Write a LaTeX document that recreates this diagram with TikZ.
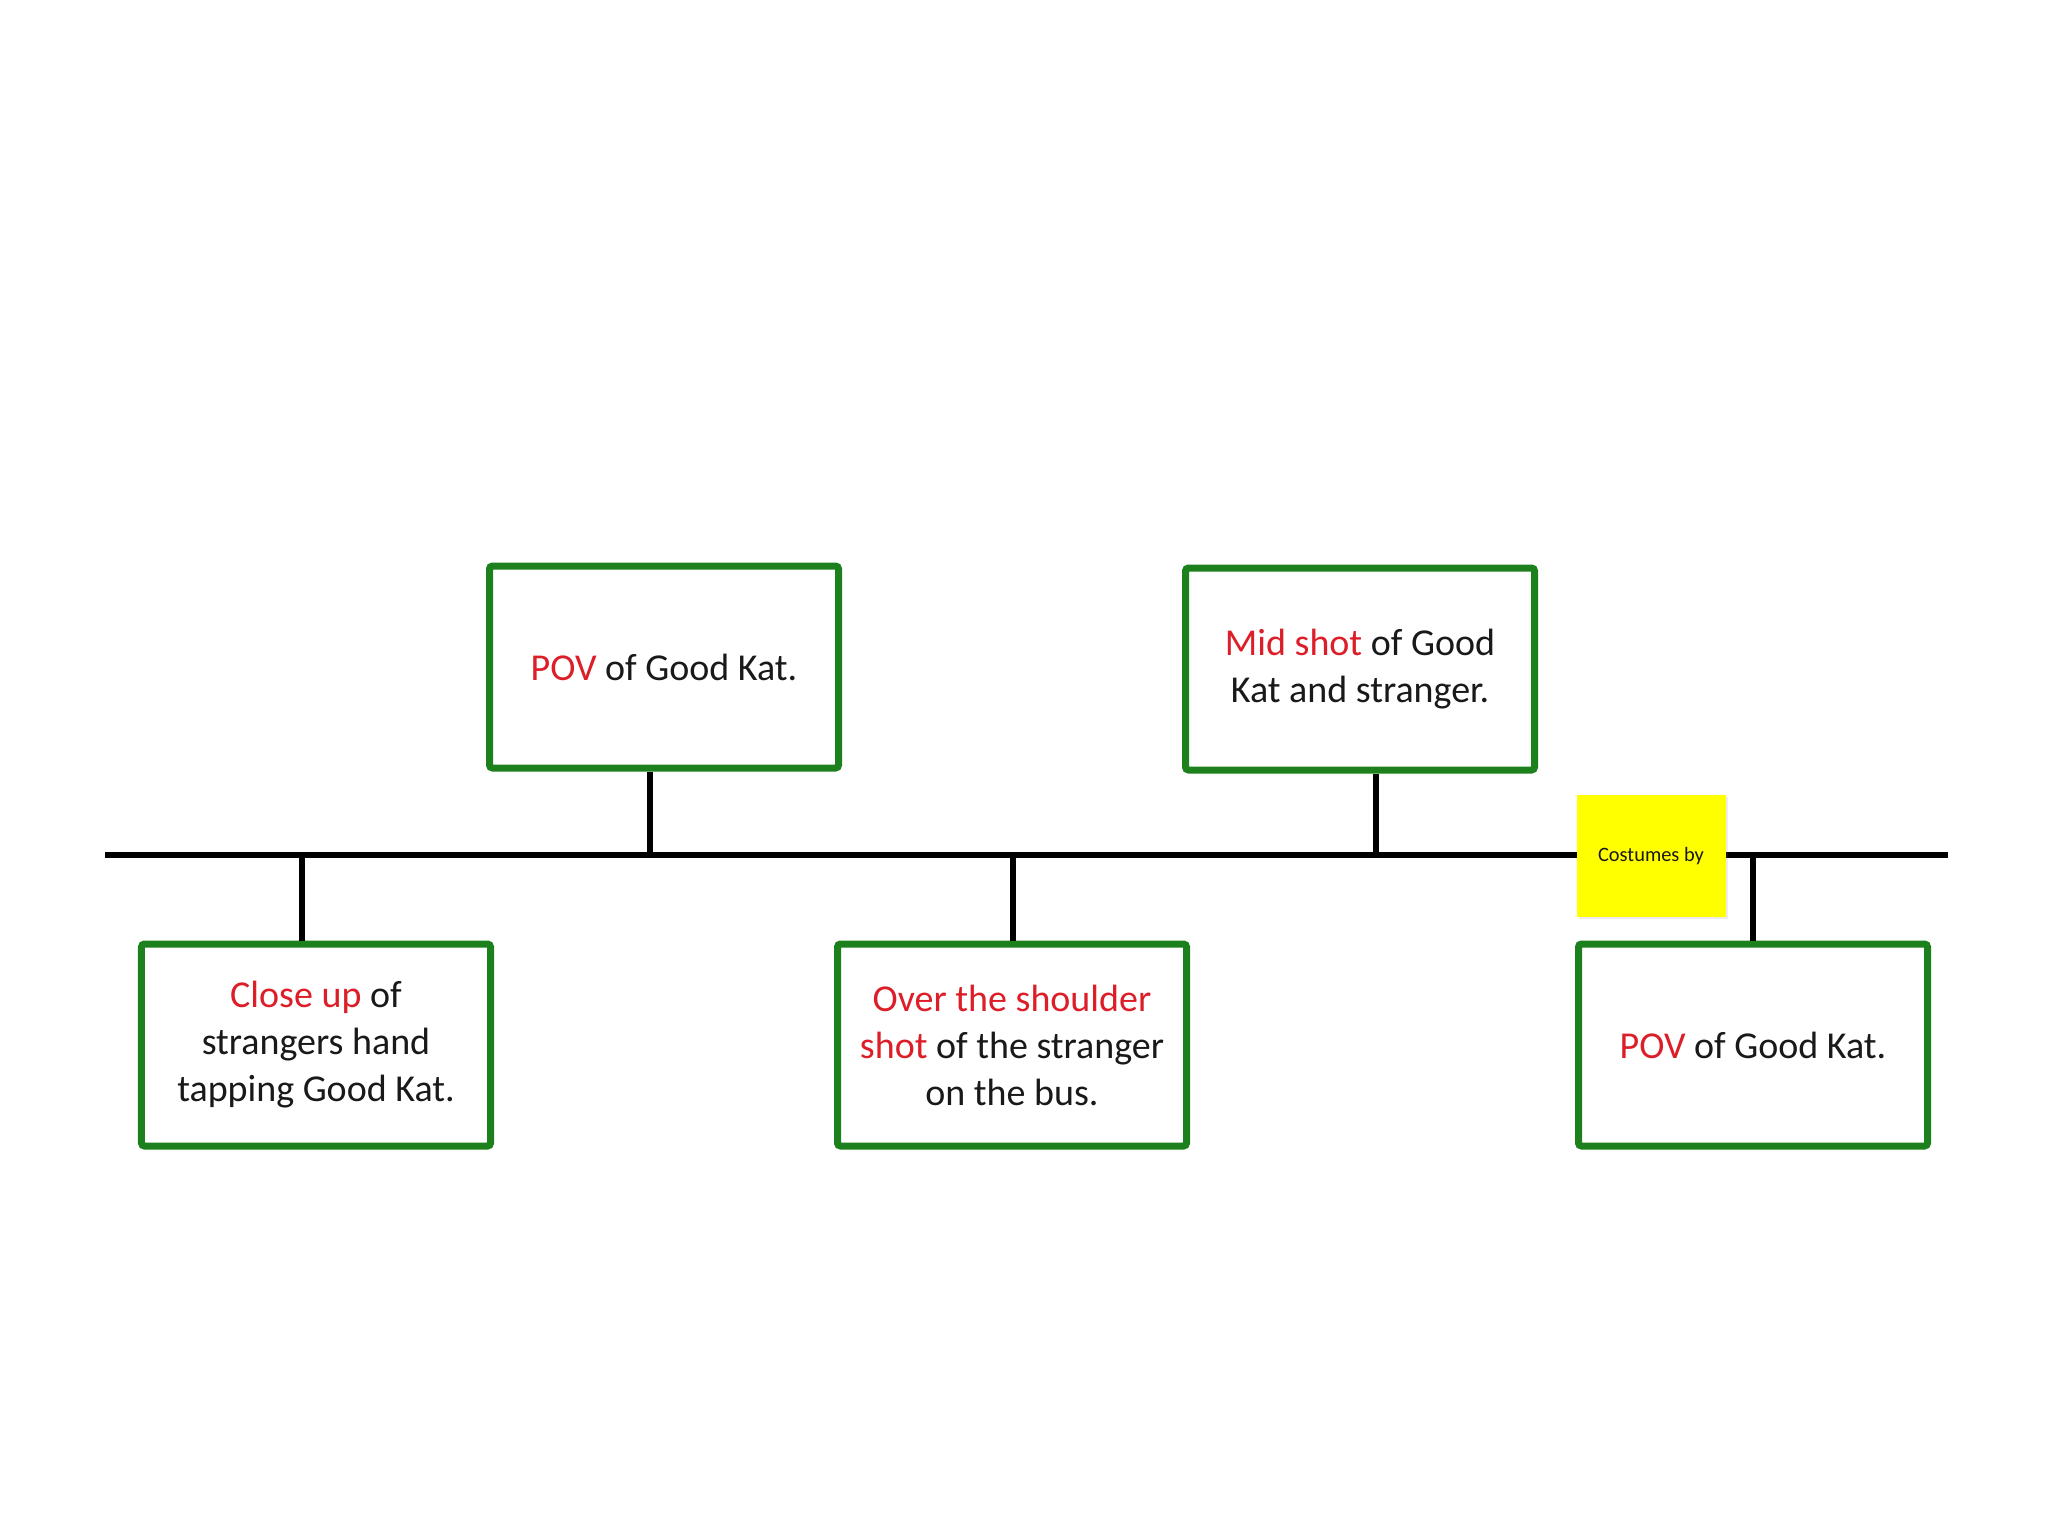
\documentclass[tikz,border=0pt]{standalone}
\usepackage{fontspec}
\setmainfont{Carlito}
\usetikzlibrary{shadows}
\definecolor{boxgreen}{RGB}{28,128,28}
\definecolor{shotred}{RGB}{220,30,40}
\definecolor{txtblack}{RGB}{25,25,25}
\definecolor{noteyellow}{RGB}{255,255,0}
\begin{document}
\begin{tikzpicture}[x=0.5bp,y=-0.5bp,
  shotbox/.style={draw=boxgreen,line width=3.5bp,fill=white,rounded corners=1.5bp,
    minimum width=349bp*0.5,minimum height=202bp*0.5,inner sep=0pt,align=center,
    font=\fontsize{19bp}{23.5bp}\selectfont,text=txtblack},
  stem/.style={line width=3bp,black},
  note/.style={fill=noteyellow,minimum width=149bp*0.5,minimum height=122bp*0.5,
    inner sep=0pt,font=\fontsize{10.2bp}{12bp}\selectfont,text=txtblack,
    drop shadow={opacity=0.15,shadow xshift=1bp,shadow yshift=-1bp}}]
\useasboundingbox (0,0) rectangle (2048,1536);
\fill[white] (0,0) rectangle (2048,1536);
% timeline
\coordinate (tlL) at (105,855);
\coordinate (tlR) at (1948,855);
\draw[stem] (tlL) -- (tlR);
\coordinate (s1) at (302,855);
\coordinate (s2) at (650,855);
\coordinate (s3) at (1013,855);
\coordinate (s4) at (1376,855);
\coordinate (s5) at (1753,855);
% boxes
\node[shotbox] (b2) at (664,667) {\textcolor{shotred}{POV} of Good Kat.};
\node[shotbox] (b4) at (1360,669) {\textcolor{shotred}{Mid shot} of Good\\Kat and stranger.};
\node[shotbox] (b1) at (316,1045) {\textcolor{shotred}{Close up} of\\strangers hand\\tapping Good Kat.};
\node[shotbox] (b3) at (1012,1045) {\textcolor{shotred}{Over the shoulder}\\\textcolor{shotred}{shot} of the stranger\\on the bus.};
\node[shotbox] (b5) at (1753,1045) {\textcolor{shotred}{POV} of Good Kat.};
% stems
\draw[stem] (s1) -- (s1 |- b1.north);
\draw[stem] (s2) -- (s2 |- b2.south);
\draw[stem] (s3) -- (s3 |- b3.north);
\draw[stem] (s4) -- (s4 |- b4.south);
\draw[stem] (s5) -- (s5 |- b5.north);
% yellow note
\node[note] (n1) at (1651,856) {Costumes by};
\end{tikzpicture}
\end{document}
